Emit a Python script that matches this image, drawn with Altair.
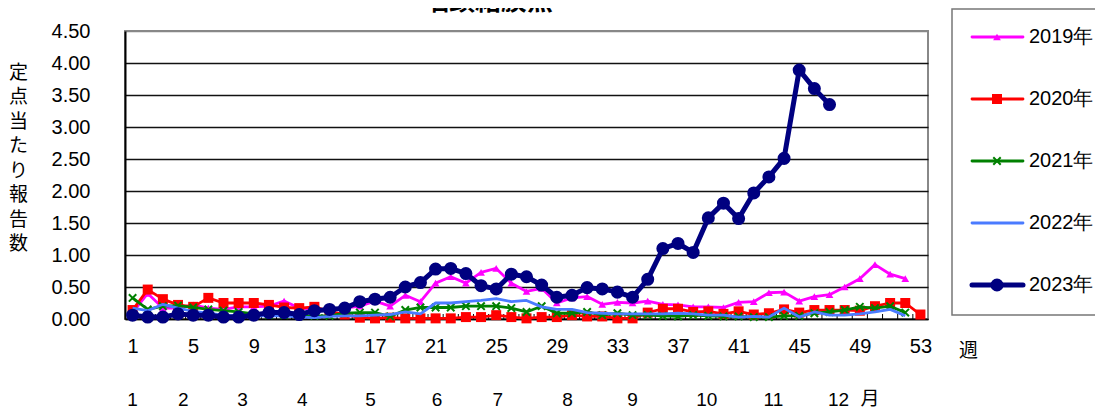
import altair as alt
import pandas as pd

# ---------------- data ----------------
weeks = list(range(1, 54))
years = ["2019年", "2020年", "2021年", "2022年", "2023年"]

v2019 = [0.10, 0.40, 0.17, 0.17, 0.22, 0.17, 0.15, 0.19, 0.19, 0.20,
         0.28, 0.17, 0.15, 0.15, 0.17, 0.20, 0.28, 0.20, 0.37, 0.27,
         0.56, 0.66, 0.56, 0.73, 0.79, 0.56, 0.43, 0.48, 0.25, 0.33,
         0.35, 0.23, 0.26, 0.25, 0.28, 0.23, 0.22, 0.19, 0.19, 0.18,
         0.26, 0.27, 0.41, 0.42, 0.28, 0.35, 0.38, 0.50, 0.63, 0.85,
         0.70, 0.63]
v2020 = [0.14, 0.46, 0.31, 0.22, 0.19, 0.33, 0.25, 0.25, 0.25, 0.22,
         0.18, 0.17, 0.19, 0.12, 0.07, 0.02, 0.01, 0.02, 0.01, 0.01,
         0.01, 0.01, 0.03, 0.03, 0.06, 0.03, 0.01, 0.03, 0.03, 0.06,
         0.04, 0.04, 0.01, 0.01, 0.10, 0.16, 0.16, 0.11, 0.12, 0.08,
         0.12, 0.07, 0.09, 0.15, 0.10, 0.14, 0.14, 0.14, 0.13, 0.20,
         0.25, 0.25, 0.07]
v2021 = [0.33, 0.15, 0.20, 0.21, 0.18, 0.15, 0.13, 0.11, 0.08, 0.06,
         0.06, 0.05, 0.05, 0.05, 0.09, 0.10, 0.10, 0.04, 0.14, 0.18,
         0.18, 0.18, 0.20, 0.20, 0.20, 0.17, 0.11, 0.20, 0.09, 0.09,
         0.11, 0.06, 0.09, 0.06, 0.06, 0.05, 0.04, 0.06, 0.05, 0.04,
         0.04, 0.03, 0.03, 0.05, 0.05, 0.09, 0.11, 0.14, 0.19, 0.17,
         0.20, 0.10]
v2022 = [0.17, 0.13, 0.23, 0.17, 0.12, 0.09, 0.06, 0.05, 0.05, 0.05,
         0.05, 0.03, 0.02, 0.04, 0.05, 0.05, 0.06, 0.07, 0.11, 0.08,
         0.25, 0.25, 0.27, 0.29, 0.32, 0.27, 0.29, 0.19, 0.15, 0.15,
         0.10, 0.09, 0.08, 0.08, 0.08, 0.08, 0.09, 0.08, 0.06, 0.06,
         0.03, 0.04, 0.03, 0.17, 0.03, 0.11, 0.06, 0.06, 0.08, 0.11,
         0.15, 0.05]
v2023 = [0.06, 0.03, 0.03, 0.08, 0.06, 0.06, 0.03, 0.03, 0.06, 0.10,
         0.10, 0.07, 0.13, 0.15, 0.17, 0.27, 0.31, 0.34, 0.50, 0.57,
         0.78, 0.79, 0.71, 0.52, 0.47, 0.70, 0.66, 0.53, 0.34, 0.37,
         0.49, 0.47, 0.42, 0.34, 0.62, 1.10, 1.18, 1.04, 1.58, 1.81,
         1.57, 1.97, 2.22, 2.51, 3.89, 3.60, 3.35]

week_ticks = [1, 5, 9, 13, 17, 21, 25, 29, 33, 37, 41, 45, 49, 53]
y_ticks = [0, 0.5, 1.0, 1.5, 2.0, 2.5, 3.0, 3.5, 4.0, 4.5]
months = ["1", "2", "3", "4", "5", "6", "7", "8", "9", "10", "11", "12"]
month_weeks = [1, 4.35, 8.25, 12.2, 16.7, 21.1, 25.1, 29.7, 34.0, 38.9, 43.3, 47.6]

title_text = "咽頭結膜熱"
y_title = "定点当たり報告数"

series = {"2019年": v2019, "2020年": v2020, "2021年": v2021,
          "2022年": v2022, "2023年": v2023}

rows = [{"year": y, "week": i + 1, "value": v}
        for y, vals in series.items() for i, v in enumerate(vals)]
df = pd.DataFrame(rows)
week_df = pd.DataFrame({"week": weeks[:-1]})
month_df = pd.DataFrame({"m": months, "mw": month_weeks})
leg_df = pd.DataFrame({"year": years})
one = pd.DataFrame({"a": [0]})

# ---------------- styling ----------------
NUM = "Liberation Sans Narrow, Liberation Sans, Arial, sans-serif"
CJK = "Noto Sans CJK JP"
W, H = 803, 288

styles = {
    "2019年": dict(color="#FF00FF", width=2.8, shape="triangle-up", size=60, filled=True),
    "2020年": dict(color="#FF0000", width=2.8, shape="square", size=100, filled=True),
    "2021年": dict(color="#008000", width=2.8, shape="M-1,-1L1,1M-1,1L1,-1", size=55, filled=False),
    "2022年": dict(color="#4A7BFF", width=2.8, shape=None),
    "2023年": dict(color="#000080", width=5, shape="circle", size=170, filled=True),
}

x_enc = alt.X(
    "week:Q",
    scale=alt.Scale(domain=[0.5, 53.5], nice=False, zero=False),
    axis=alt.Axis(values=week_ticks, grid=False, ticks=False, domainColor="black",
                  domainWidth=1.5, labelFontSize=20, labelFont=NUM, labelColor="black",
                  labelPadding=17, labelFlush=False, labelOverlap=False,
                  title="週", titleFont=CJK, titleFontSize=19, titleFontWeight="normal",
                  titleColor="black", titleX=843, titleY=31, titleAlign="center",
                  titleBaseline="middle", titleAngle=0),
)
y_enc = alt.Y(
    "value:Q",
    scale=alt.Scale(domain=[0, 4.5], nice=False),
    axis=alt.Axis(values=y_ticks, format=".2f", grid=True,
                  gridColor={"condition": {"test": "datum.value >= 4.5", "value": "#888888"},
                             "value": "#111111"},
                  gridWidth=1.3, ticks=False, domainColor="black", domainWidth=2,
                  labelFontSize=20, labelFont=NUM, labelColor="black", labelPadding=35,
                  labelFlush=False,
                  title=list(y_title), titleFont=CJK, titleFontSize=19,
                  titleFontWeight="normal", titleColor="black", titleAngle=0,
                  titleX=-107, titleY=41, titleAlign="center", titleBaseline="middle",
                  titleLineHeight=24.5),
)

main_layers = []
# inward tick marks on the category axis
main_layers.append(
    alt.Chart(week_df).transform_calculate(b="datum.week + 0.5")
    .mark_rule(color="black", strokeWidth=1)
    .encode(x=alt.X("b:Q", scale=alt.Scale(domain=[0.5, 53.5], nice=False, zero=False)),
            y=alt.value(H), y2=alt.value(H - 5))
)
for y in years:
    s = styles[y]
    base = alt.Chart(df).transform_filter(alt.datum.year == y)
    main_layers.append(
        base.mark_line(color=s["color"], strokeWidth=s["width"], strokeJoin="round")
        .encode(x=x_enc, y=y_enc)
    )
    if s["shape"]:
        main_layers.append(
            base.mark_point(shape=s["shape"], size=s["size"], filled=s["filled"],
                            color=s["color"], opacity=1,
                            strokeWidth=2 if not s["filled"] else 1)
            .encode(x=x_enc, y=y_enc)
        )

# month labels (second category row)
main_layers.append(
    alt.Chart(month_df).mark_text(font=NUM, fontSize=19, baseline="middle",
                                  align="center", color="black")
    .encode(x=alt.X("mw:Q", scale=alt.Scale(domain=[0.5, 53.5], nice=False, zero=False)),
            y=alt.value(369), text="m:N")
)
main_layers.append(
    alt.Chart(one).mark_text(text="月", font=CJK, fontSize=19, baseline="middle",
                             align="center", color="black")
    .encode(x=alt.value(745), y=alt.value(368))
)
# partially visible title at the very top (cut off, as in the reference)
main_layers.append(
    alt.Chart(one).mark_text(text=title_text, font=CJK, fontSize=26, fontWeight="bold",
                             baseline="alphabetic", align="center", color="black")
    .encode(x=alt.value(363), y=alt.value(-21))
)

main = alt.layer(*main_layers)

# ---------------- legend ----------------
ly = alt.Y("year:N", scale=alt.Scale(type="point", domain=years, range=[6, 254], padding=0),
           axis=None)
leg_layers = [
    alt.Chart(one).mark_rect(fillOpacity=0, stroke="#777777", strokeWidth=1.5)
    .encode(x=alt.value(827), x2=alt.value(1000), y=alt.value(-22), y2=alt.value(284))
]
for y in years:
    s = styles[y]
    lb = alt.Chart(leg_df).transform_filter(alt.datum.year == y)
    leg_layers.append(
        lb.mark_rule(color=s["color"], strokeWidth=s["width"], strokeCap="round")
        .encode(x=alt.value(847), x2=alt.value(898), y=ly)
    )
    if s["shape"]:
        leg_layers.append(
            lb.mark_point(shape=s["shape"], size=s["size"], filled=s["filled"],
                          color=s["color"], opacity=1,
                          strokeWidth=2 if not s["filled"] else 1)
            .encode(x=alt.value(872), y=ly)
        )
leg_layers.append(
    alt.Chart(leg_df).mark_text(font=NUM, fontSize=20, align="left", baseline="middle",
                                color="black")
    .encode(x=alt.value(904), y=ly, text="year:N")
)
legend = alt.layer(*leg_layers)

chart = (
    alt.layer(main, legend)
    .resolve_scale(y="independent")
    .properties(width=W, height=H, autosize=alt.AutoSizeParams(type="none"),
                padding={"left": 117, "top": 23, "right": 167, "bottom": 90},
                background="white")
    .configure_view(stroke="#888888", strokeWidth=2)
)

chart.save("out.html", embed_options={"renderer": "svg", "actions": False})
